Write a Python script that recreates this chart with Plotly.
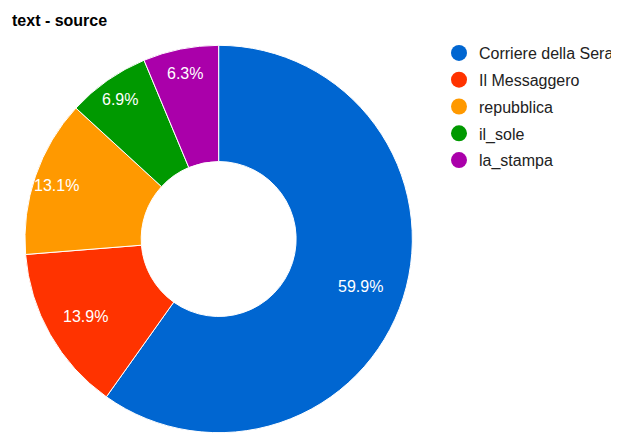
import math
import plotly.graph_objects as go

labels = ["Corriere della Sera", "Il Messaggero", "repubblica", "il_sole", "la_stampa"]
values = [59.9, 13.9, 13.1, 6.9, 6.3]
colors = ["#0066D1", "#FF3300", "#FF9900", "#009900", "#AA00AA"]

# the page body adds an 8px offset, so the figure is sized and placed to compensate
OFF = 8
W, H = 619 - OFF, 433 - OFF
cx, cy, r = 219 - OFF, 239 - OFF, 194
# radial placement of each slice label, as a fraction of the outer radius (style)
label_rfrac = [0.77, 0.79, 0.885, 0.89, 0.88]

fig = go.Figure()
fig.add_trace(go.Pie(
    labels=labels, values=values,
    textinfo="none",
    hole=0.40, sort=False, direction="clockwise", rotation=0,
    marker=dict(colors=colors, line=dict(color="white", width=1)),
    showlegend=False, hoverinfo="label+percent",
    domain=dict(x=[(cx - r) / W, (cx + r) / W], y=[max(0, (H - cy - r) / H), min(1, (H - cy + r) / H)]),
))
for lab, col in zip(labels, colors):
    fig.add_trace(go.Scatter(
        x=[None], y=[None], mode="markers", name=lab, legendgroup=lab,
        marker=dict(color=col, size=16, symbol="circle"), hoverinfo="skip",
    ))

total = sum(values)
cum = 0.0
annotations = []
for v, fr in zip(values, label_rfrac):
    mid = (cum + v / 2) / total * 2 * math.pi
    cum += v
    px = cx + fr * r * math.sin(mid)
    py = cy - fr * r * math.cos(mid)
    annotations.append(dict(
        x=px / W, y=1 - (py + 2) / H, xref="paper", yref="paper", showarrow=False,
        text=f"{v}%", xanchor="center", yanchor="middle",
        font=dict(family="Liberation Sans, Arial, sans-serif", size=16, color="white"),
    ))

fig.update_layout(
    width=W, height=H, margin=dict(l=0, r=0, t=0, b=0),
    paper_bgcolor="white", plot_bgcolor="white",
    xaxis=dict(visible=False), yaxis=dict(visible=False),
    annotations=annotations,
    title=dict(text="<b>text - source</b>", x=(12 - OFF) / W, xanchor="left",
               y=1 - (20 - OFF) / H, yanchor="middle",
               font=dict(family="Liberation Sans, Arial, sans-serif", size=16, color="#000000")),
    legend=dict(x=(440 - OFF) / W, xanchor="left", y=1 - (36 - OFF) / H, yanchor="top",
                font=dict(family="Liberation Sans, Arial, sans-serif", size=16, color="#222222"),
                tracegroupgap=3, bgcolor="rgba(0,0,0,0)"),
)
fig.write_html("out.html")
